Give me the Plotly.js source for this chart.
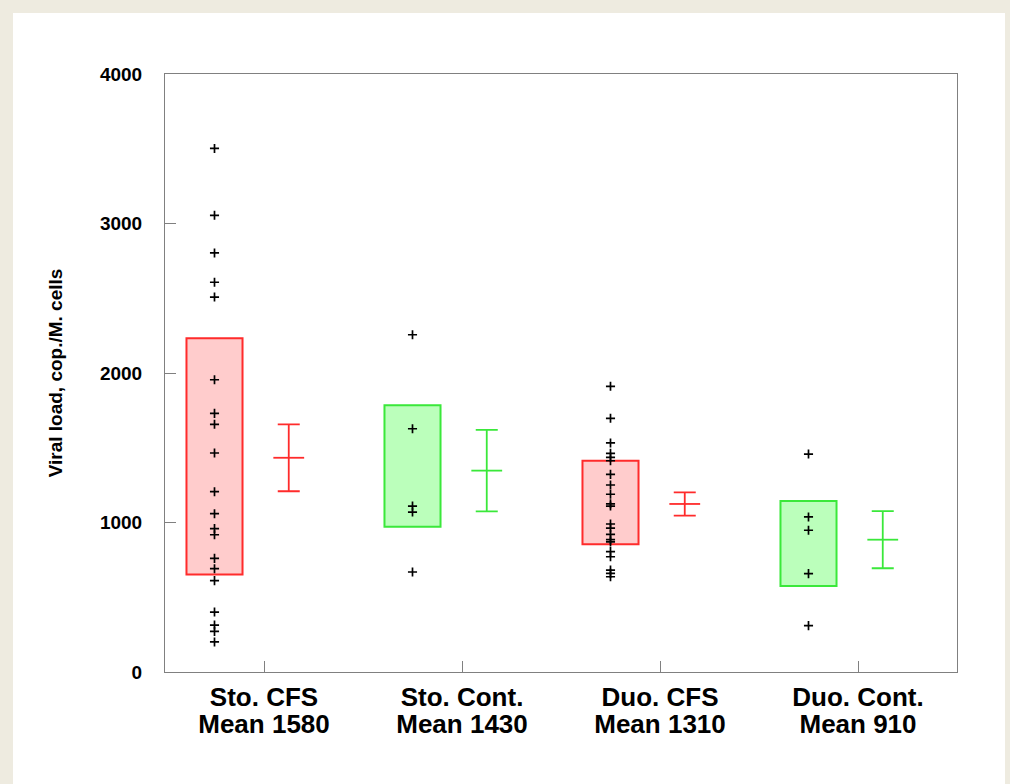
<!DOCTYPE html>
<html>
<head>
<meta charset="utf-8">
<script src="https://cdn.plot.ly/plotly-3.0.1.min.js"></script>
<style>
  html, body { margin: 0; padding: 0; background: #eeebe0; width: 1010px; height: 784px; overflow: hidden; }
  #panel { position: absolute; left: 13px; top: 13px; width: 992px; height: 771px; background: #ffffff; }
  #chart { width: 992px; height: 771px; }
</style>
</head>
<body>
<div id="panel"><div id="chart"></div></div>
<script>
// ---- data ----
const groupNames = ["Sto. CFS", "Sto. Cont.", "Duo. CFS", "Duo. Cont."];
const meanLabels = ["Mean 1580", "Mean 1430", "Mean 1310", "Mean 910"];
const groupKinds = ["CFS", "Cont", "CFS", "Cont"];

const boxLow  = [653, 972, 854, 575];
const boxHigh = [2232, 1784, 1413, 1144];

const errMid  = [1433, 1347, 1124, 885];
const errHalf = [224, 272, 78, 191];

const pointsStoCFS  = [3502, 3055, 2803, 2607, 2508, 1955, 1730, 1657, 1465, 1206, 1059, 959, 918, 760, 691, 611, 401, 314, 272, 201];
const pointsStoCont = [2256, 1627, 1110, 1070, 669];
const pointsDuoCFS  = [1911, 1697, 1532, 1463, 1436, 1413, 1322, 1251, 1189, 1125, 1110, 990, 963, 921, 885, 870, 805, 771, 682, 660, 637];
const pointsDuoCont = [1458, 1037, 948, 658, 310];

const yTicks = [0, 1000, 2000, 3000, 4000];

// ---- styling ----
const fillColor = {CFS: "#ffcccc", Cont: "#bbffbb"};
const lineColor = {CFS: "#ff2b2b", Cont: "#3ae83a"};
const boxOffset = -0.25, errOffset = 0.125, boxWidth = 0.283;

const idx = groupNames.map((_, i) => i);
const traces = [];

traces.push({
  type: "bar",
  x: idx.map(i => i + boxOffset),
  base: boxLow,
  y: boxHigh.map((h, i) => h - boxLow[i]),
  width: boxWidth,
  marker: {
    color: groupKinds.map(k => fillColor[k]),
    line: {color: groupKinds.map(k => lineColor[k]), width: 2}
  },
  hoverinfo: "skip",
  showlegend: false
});

idx.forEach(i => {
  const c = lineColor[groupKinds[i]];
  traces.push({
    type: "scatter", mode: "markers",
    x: [i + errOffset], y: [errMid[i]],
    marker: {symbol: "line-ew", size: 22, color: c, line: {color: c, width: 1.8}},
    error_y: {type: "data", array: [errHalf[i]], visible: true, color: c, thickness: 1.8, width: 11},
    showlegend: false, hoverinfo: "skip"
  });
});

const groups = [pointsStoCFS, pointsStoCont, pointsDuoCFS, pointsDuoCont];
groups.forEach((pts, i) => {
  traces.push({
    type: "scatter", mode: "markers",
    x: pts.map(() => i + boxOffset), y: pts,
    marker: {symbol: "cross-thin", size: 6.5, color: "#000", line: {color: "#000", width: 1.7}},
    showlegend: false, hoverinfo: "skip"
  });
});

// invisible trace to anchor the second label axis
traces.push({
  type: "scatter", mode: "markers", xaxis: "x2", yaxis: "y",
  x: idx, y: idx.map(() => null),
  marker: {opacity: 0}, showlegend: false, hoverinfo: "skip"
});

const labelFont = {family: "Liberation Sans, Arial, sans-serif", size: 26, color: "#000", weight: "bold"};

const layout = {
  width: 992, height: 771,
  margin: {l: 152, r: 48, t: 61, b: 112},
  paper_bgcolor: "#ffffff", plot_bgcolor: "#ffffff",
  barmode: "overlay",
  showlegend: false,
  xaxis: {
    range: [-0.5, 3.5],
    tickvals: idx,
    ticktext: groupNames,
    ticks: "inside", ticklen: 11, tickcolor: "#808080", tickwidth: 1,
    showline: true, linecolor: "#808080", linewidth: 1, mirror: true,
    showgrid: false, zeroline: false,
    ticklabelstandoff: 2,
    tickfont: labelFont
  },
  xaxis2: {
    overlaying: "x", anchor: "y", side: "bottom",
    range: [-0.5, 3.5],
    tickvals: idx,
    ticktext: meanLabels,
    ticks: "", showline: false, showgrid: false, zeroline: false,
    ticklabelstandoff: 34,
    tickfont: labelFont
  },
  yaxis: {
    range: [0, 4000],
    tickvals: yTicks,
    ticktext: yTicks.map(String),
    ticks: "inside", ticklen: 11, tickcolor: "#808080", tickwidth: 1,
    showline: true, linecolor: "#808080", linewidth: 1, mirror: true,
    showgrid: false, zeroline: false,
    ticklabelstandoff: 18,
    tickfont: {family: "Liberation Sans, Arial, sans-serif", size: 19, color: "#000", weight: "bold"},
    title: {text: "Viral load, cop./M. cells", standoff: 32,
            font: {family: "Liberation Sans, Arial, sans-serif", size: 19, color: "#000", weight: "bold"}}
  }
};

Plotly.newPlot("chart", traces, layout, {displayModeBar: false, staticPlot: true});
</script>
</body>
</html>
